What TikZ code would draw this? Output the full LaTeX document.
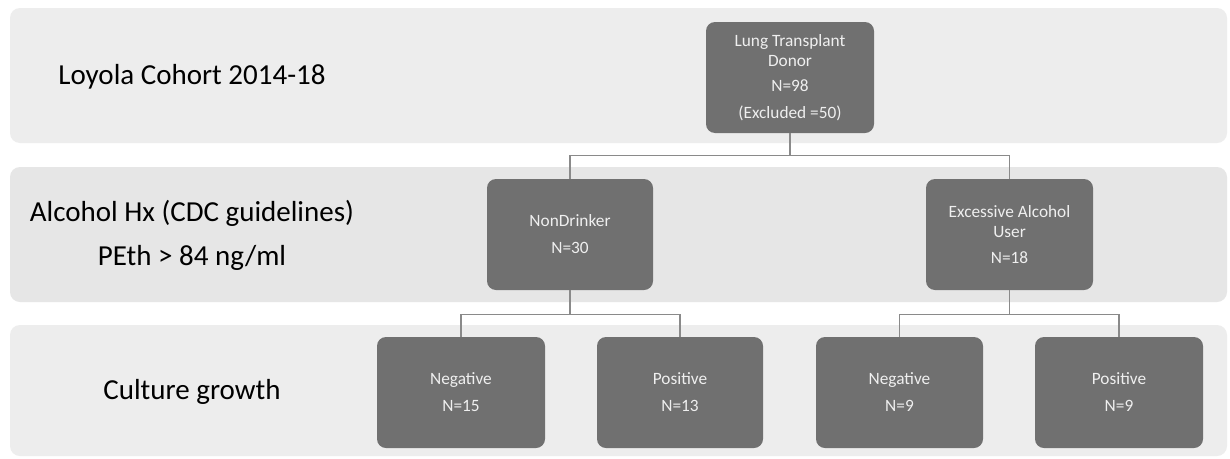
\documentclass[tikz,border=0pt]{standalone}
\usepackage{fontspec}
\setmainfont{Carlito}
\definecolor{bandA}{HTML}{EDEDED}
\definecolor{bandB}{HTML}{E6E6E6}
\definecolor{boxfill}{HTML}{707070}
\definecolor{boxtext}{HTML}{EFEFEF}
\definecolor{linecol}{HTML}{8A8A8A}
\tikzset{
  band/.style={rounded corners=10pt, fill=#1, draw=none},
  gbox/.style={rounded corners=9pt, fill=boxfill, draw=none, text=boxtext,
    minimum width=168pt, minimum height=111pt, align=center, inner sep=0pt,
    font=\fontsize{17.3}{20}\selectfont},
  lbl/.style={align=center, text=black, font=\fontsize{29}{44}\selectfont, inner sep=0pt},
  conn/.style={draw=linecol, line width=1.2pt},
}
\begin{document}
\begin{tikzpicture}[x=1pt,y=-1pt]
\useasboundingbox (0,0) rectangle (1230,458);
\fill[white] (0,0) rectangle (1230,458);
% bands
\path[band=bandA] (10,8) rectangle (1227,143);
\path[band=bandB] (10,167) rectangle (1227,302);
\path[band=bandA] (10,325) rectangle (1227,456);
% labels
\node[lbl] (l1) at (192,77) {Loyola Cohort 2014-18};
\node[lbl] (l2) at (192,235) {Alcohol Hx (CDC guidelines)\\PEth > 84 ng/ml};
\node[lbl] (l3) at (192,392) {Culture growth};
% boxes
\node[gbox] (top) at (790,77.5) {Lung Transplant\\Donor\\[5pt]N=98\\[7pt](Excluded =50)};
\node[gbox, minimum width=166pt] (nd) at (570,234.5) {NonDrinker\\[7pt]N=30};
\node[gbox, minimum width=167pt] (ex) at (1009.5,234.5) {Excessive Alcohol\\User\\[6pt]N=18};
\node[gbox] (n1) at (461,392.5) {Negative\\[7pt]N=15};
\node[gbox, minimum width=166pt] (p1) at (680,392.5) {Positive\\[7pt]N=13};
\node[gbox, minimum width=167pt] (n2) at (899.5,392.5) {Negative\\[7pt]N=9};
\node[gbox] (p2) at (1119,392.5) {Positive\\[7pt]N=9};
% connectors
\draw[conn] (top.south) -- ++(0,22) coordinate (j1);
\draw[conn] (j1) -| (nd.north);
\draw[conn] (j1) -| (ex.north);
\draw[conn] (nd.south) -- ++(0,24) coordinate (j2);
\draw[conn] (j2) -| (n1.north);
\draw[conn] (j2) -| (p1.north);
\draw[conn] (ex.south) -- ++(0,24) coordinate (j3);
\draw[conn] (j3) -| (n2.north);
\draw[conn] (j3) -| (p2.north);
\end{tikzpicture}
\end{document}
